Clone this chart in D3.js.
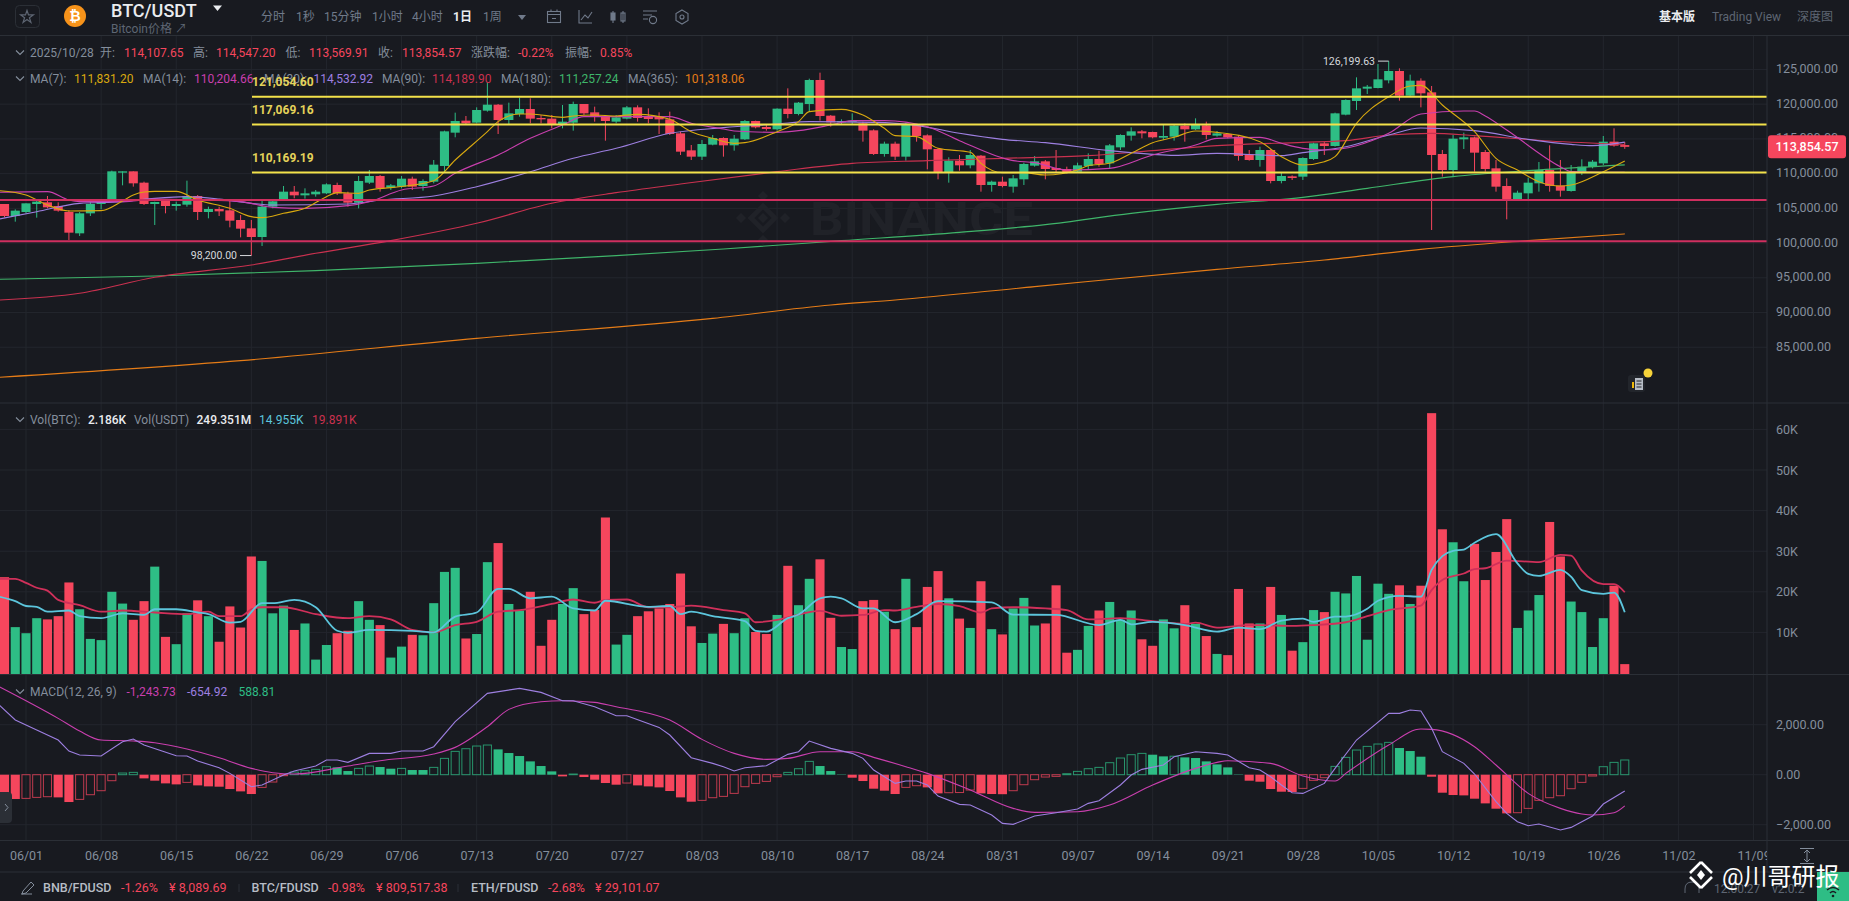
<!DOCTYPE html>
<html>
<head>
<meta charset="utf-8">
<script src="https://cdn.jsdelivr.net/npm/d3@7"></script>
<style>
  html, body { margin: 0; padding: 0; background: #181a20; overflow: hidden; }
  svg { display: block; }
  text { font-family: Roboto, "Noto Sans CJK SC", sans-serif; font-size: 12px; }
  .axis text { fill: #848e9c; font-size: 12.5px; }
  .axis path, .axis line { display: none; }
</style>
</head>
<body>
<svg id="chart" width="1849" height="901"></svg>
<script>
// first candle is 2025/05/30, day 0 is 06/01
const firstDay = -2;

const opens = [
  105624,103896,104472,105624,105864,105336,104472,101400,104280,105624,
  106296,110136,110328,108696,105624,106056,105336,105528,106776,104472,
  104904,104712,103320,102120,100872,105240,106200,107400,106872,107016,
  107160,108360,107160,105816,108696,109656,107976,108120,109272,108216,
  108840,111096,115896,117624,117336,119064,119928,117720,118584,119304,
  118008,117912,117144,117336,120024,118824,118296,117480,117912,119544,
  118296,118200,117816,115800,113352,112440,114168,115128,114072,114936,
  117576,116712,116376,119352,118584,120024,123480,118344,117384,117432,
  117240,116232,112824,114312,112440,117000,115512,113544,110136,111864,
  111192,112584,108360,108840,108120,109176,111144,111768,110808,110664,
  110280,111096,112104,111480,113784,115464,116088,115992,115176,115320,
  116904,116376,116952,115464,115704,115320,112776,111960,113400,108936,
  109608,109560,112104,114360,113976,118488,120456,122232,122328,123432,
  124776,121224,123384,121704,112824,110520,114936,115224,113112,110760,
  108216,106344,107160,108600,110520,108264,107496,110136,110952,111480,
  114600,114107.65];
const closes = [
  103896,104664,105720,105960,105144,104664,101496,104280,105624,106056,
  110328,110328,108600,105624,105912,105336,105624,106776,104472,104904,
  104568,103224,102072,100872,105240,106008,107400,106872,107160,107400,
  108456,107160,105816,108936,109656,107880,108312,109272,108120,108936,
  111288,116088,117576,117240,119160,119928,117720,118680,119304,117912,
  117816,117144,117480,120024,118680,118200,117576,118104,119544,118008,
  117864,117816,115704,113160,112440,114264,115128,114072,115032,117576,
  116664,116424,119352,118584,120216,123480,118296,117384,117576,117624,
  116184,112824,114312,112440,117000,115416,113496,110136,111864,111192,
  112680,108360,108840,108216,109320,111384,111768,110664,110520,110136,
  111192,112104,111384,114072,115560,116088,115800,115224,115416,116904,
  116376,117000,115560,115800,115224,112536,111960,113400,108936,109656,
  109368,112248,114360,113976,118680,120600,122280,122520,123576,124776,
  121224,123384,121560,112680,110520,115032,115224,113016,110664,108120,
  106296,107256,108696,110520,108216,107544,110280,111000,111720,114600,
  114024,113854.57];
const highs = [
  105624,104856,105720,106056,106776,105864,104760,104472,105960,106344,
  110424,110328,110328,108840,105960,106296,105960,108984,106920,105240,
  105240,106200,104040,103320,106056,106104,108216,108216,107880,107640,
  108600,108696,107400,109656,110520,109800,108504,109656,109560,109176,
  111960,116184,118776,118296,119544,123096,120024,120216,120936,120840,
  118440,118440,119880,120360,120024,119640,118440,118440,119736,119832,
  119400,118824,118920,116040,114120,114840,115560,115224,115560,117720,
  117624,117000,119400,122280,120312,123672,124536,118440,117816,118680,
  117480,116376,114600,114600,117336,117144,115656,113640,112344,112680,
  113400,112680,108984,109560,109800,111576,112536,111960,113400,111000,
  111576,112920,113304,114264,115656,116664,116280,116040,117000,117096,
  117240,117960,117480,116136,115800,115560,113400,113880,113544,110136,
  109752,112344,114456,114600,118776,120696,123864,122760,125784,126199.63,
  125160,124248,123720,122616,113400,115560,115896,115320,113400,111960,
  109320,107544,109416,111672,114072,111960,111240,112056,111960,115416,
  116520,114547.2];
const lows = [
  103704,103080,104280,103656,105000,104520,100440,101016,103896,104856,
  106200,108312,108120,105480,102600,104280,104664,105240,103320,103560,
  103896,102264,100824,98200,99576,105000,106104,106440,106392,106680,
  107064,106920,105240,105000,108504,107400,107640,107880,107640,107544,
  108600,110280,115224,117144,117240,118920,115704,117000,118200,117240,
  117240,116520,116520,116184,118440,117480,114744,117240,117816,117480,
  117240,115704,115560,112680,111960,111960,114072,112440,113304,114840,
  116520,116184,116184,117960,118392,118920,117624,116760,117144,117000,
  114600,112680,112440,111960,111864,114600,110616,109176,108696,110424,
  110760,107400,107400,108024,107256,108360,111000,109176,110136,110040,
  110184,110520,111000,110760,113400,114744,115080,115080,114840,114744,
  114600,116280,114936,115320,115080,111864,111864,111000,108600,108600,
  109080,109080,111960,112680,113880,118392,119160,121464,122280,123000,
  120504,121080,119544,101880,109560,109560,113544,110280,110280,107400,
  103416,106200,106296,107400,107400,106680,107400,109800,110760,111240,
  113880,113569.91];

// volume in K BTC
const volumes = [
  23.6,11.3,9.8,13.5,13.2,14.0,22.3,15.7,8.4,8.1,
  20.0,17.1,13.1,17.7,26.2,8.9,7.1,14.7,17.9,14.0,
  7.7,16.4,11.2,28.7,27.6,14.7,16.6,10.6,12.2,3.3,
  6.9,9.8,10.4,17.7,13.1,11.8,3.8,6.5,9.4,9.3,
  17.2,24.9,25.9,8.5,9.6,27.3,32.0,17.0,15.4,20.0,
  6.7,13.1,17.0,20.9,14.5,15.5,38.3,7.0,9.4,14.0,
  15.2,15.9,17.0,24.5,11.5,7.4,9.7,12.1,9.8,13.5,
  10.1,9.6,14.3,26.4,16.7,23.2,28.0,13.6,6.4,5.9,
  17.7,18.0,15.1,10.8,23.2,11.3,21.2,25.1,18.4,13.4,
  11.1,22.6,10.8,9.5,15.9,18.5,11.7,12.2,21.6,5.0,
  5.7,11.6,15.4,17.5,13.1,15.4,8.3,6.7,13.2,11.0,
  16.7,12.1,9.1,4.7,4.4,20.7,12.2,12.2,21.2,14.3,
  5.5,7.6,15.5,15.0,20.0,19.6,23.9,8.2,22.0,19.5,
  21.6,17.0,21.5,64.0,35.4,32.2,22.6,31.8,22.9,29.8,
  37.9,11.1,15.4,19.2,37.2,28.7,17.6,15.0,6.4,13.5,
  21.5,2.186];

const macdHist = [
  -773,-973,-947,-907,-880,-907,-1093,-987,-800,-640,
  -240,67,93,-147,-240,-347,-387,-307,-427,-467,
  -480,-573,-667,-773,-507,-293,-40,107,160,213,
  320,293,147,253,347,307,240,253,187,187,
  293,653,933,1040,1147,1187,1013,867,747,533,
  347,133,-67,27,-93,-200,-333,-400,-333,-427,
  -467,-507,-653,-907,-1080,-1027,-920,-867,-747,-480,
  -347,-267,-80,93,240,533,347,147,13,-120,
  -253,-560,-640,-773,-507,-440,-507,-747,-720,-713,
  -613,-747,-773,-780,-640,-400,-200,-93,-67,40,
  133,240,293,480,667,800,853,800,733,740,
  693,667,533,413,293,13,-240,-280,-573,-680,
  -693,-547,-227,-120,333,693,987,1133,1227,1293,
  1067,947,720,-80,-720,-813,-827,-960,-1147,-1360,
  -1547,-1520,-1347,-1027,-920,-840,-560,-307,-53,320,
  493,588.81];

// moving averages at the visible turning points
const ma7Days = [-2.5,0,2,4,7,9,10,11,12,14,16,19,21,22,24,26,28,29,31,32,34,38,40,43,44,46,47,50,51,53,55,57,60,62,64,66,67,70,72,73,76,78,80,81,83,85,88,89,91,93,95,98,99,101,103,105,107,109,111,115,117,119,121,122,124,127,129,130,132,135,137,139,141,143,144,147,149];
const ma7Vals = [107544,106920,105480,104616,104664,106056,106920,107352,107448,107448,106200,105000,103800,103656,104280,105000,106680,107256,107160,107640,107976,108984,111960,116040,117480,118584,118584,118104,118296,118440,118296,118536,117816,116040,115080,114360,114456,116040,117480,118920,119256,118440,116520,115464,115320,113640,113064,111480,110136,110136,109800,110520,111144,111480,112920,114456,115224,116136,115944,114600,112440,111240,111720,112440,117240,121080,122616,122712,119880,116040,112200,110520,108840,108216,108360,110280,111831.2];
const ma14Days = [-2.5,2,4,5,9,12,16,20,23,26,30,32,35,38,40,44,47,50,52,55,60,62,65,66,70,72,75,77,80,84,87,92,94,97,101,105,109,111,115,117,119,121,124,127,130,134,135,136,138,143,144,147,149];
const ma14Vals = [107304,107400,106200,105960,105960,106344,106200,105960,105144,105000,105384,105960,107640,108216,110040,112680,115080,117000,118200,118200,118200,117240,116424,116136,115944,116184,117000,117624,117624,116760,114744,111864,111576,110520,110760,112680,114120,115080,115224,114360,113640,113400,114024,115800,118584,119016,119016,118296,116280,111000,110280,110184,110204.66];
const ma30Days = [-2.5,1,5,9,12,15,18,21,23,30,33,38,42,47,51,55,60,65,70,73,79,83,87,91,95,101,105,107,111,117,119,123,127,130,135,140,144,146,149];
const ma30Vals = [103464,104520,105720,105960,106440,106680,106344,105720,105480,105624,106200,106776,108120,110280,112200,113640,115800,116616,117144,117480,117384,116952,115800,114936,114456,113304,112776,112632,112920,112584,113016,113880,115560,116568,116184,114936,114216,114024,114532.92];
const ma90Days = [-2.5,5,12,21,27,34,42,49,55,61,70,77,84,91,99,105,111,119,123,127,131,135,142,149];
const ma90Vals = [91800,92760,95064,96840,98520,100344,102840,105720,107256,108504,110280,111480,111864,112200,112584,113304,114024,114504,114744,115560,115800,115464,114696,114189.9];
const ma180Days = [-2.5,12,27,42,55,65,76,87,95,103,111,119,125,133,140,149];
const ma180Vals = [94776,95256,96024,97080,98184,99144,100344,101544,102648,104280,105576,106584,107880,109560,110424,111257.24];
const ma365Days = [-2.5,20,42,64,75,81,94,111,121,130,140,149];
const ma365Vals = [80664,83064,86280,89160,91080,91800,93720,96216,97560,99096,100344,101318.06];

const volBlueDays = [-2.5,-1,0,1,2,4,5,7,9,11,12,14,16,17,19,20,22,23,25,27,29,30,32,36,38,40,42,44,45,47,49,51,53,54,58,60,61,62,64,67,68,69,71,72,74,75,76,78,79,81,83,85,90,92,96,100,102,103,105,108,111,113,115,117,119,120,122,123,125,126,128,130,131,132,133,134,135,137,139,140,141,143,144,145,147,148,149];
const volBlueVals = [18.8,17.7,16.5,16.3,15.1,15.4,14.0,13.5,14.7,14.3,15.7,15.7,14.9,14.5,12.4,12.6,17.2,17.2,18.0,16.2,10.4,9.9,10.6,10.4,10.0,13.9,14.9,20.7,20.7,18.4,18.8,15.9,15.4,17.8,16.3,16.5,14.5,15.1,14.0,12.8,10.4,10.2,13.5,14.4,18.4,18.8,18.4,15.9,15.9,12.5,14.5,17.7,17.4,14.4,14.3,11.8,13.1,12.0,12.6,11.8,10.2,11.2,10.8,12.9,13.4,12.6,13.9,13.9,15.8,17.8,19.0,18.8,25.4,28.8,30.1,30.4,32.1,34.2,27.0,24.4,23.9,25.4,23.7,20.4,19.5,19.8,14.955];
const volRedDays = [-2.5,-1,0,1,2,3,5,7,9,12,15,17,18,20,21,22,24,27,30,32,34,36,38,40,42,44,46,49,51,53,54,56,58,60,62,65,67,68,70,71,74,76,78,80,81,83,85,87,89,90,92,95,97,99,102,105,108,109,111,114,115,118,120,123,125,127,130,131,132,134,135,136,138,141,143,144,145,147,148,149];
const volRedVals = [23.2,23.2,22.2,21.0,20.3,18.0,16.7,15.1,15.4,14.9,14.5,15.1,14.0,14.0,15.7,16.2,16.2,14.5,13.5,14.0,13.2,10.6,10.0,11.8,12.6,15.1,15.5,17.0,18.1,17.3,18.0,18.1,16.2,16.2,16.6,15.5,14.7,12.5,13.1,13.7,15.3,14.1,14.3,15.5,15.4,16.3,17.0,16.5,14.9,15.9,16.2,15.9,15.5,13.2,13.5,12.8,12.1,12.4,11.2,11.8,11.8,11.6,11.8,12.5,14.0,15.5,16.6,20.4,22.9,24.5,25.6,25.8,27.7,27.3,29.1,28.9,25.2,21.9,21.9,19.891];

const difDays = [-2.5,-1,1,3,4,5,7,9,10,11,14,15,16,18,19,21,22,24,25,27,28,29,30,32,34,35,37,38,40,43,46,48,50,51,53,55,56,59,60,62,64,65,66,67,69,71,72,73,75,77,78,79,81,82,83,84,85,87,88,90,91,92,94,96,98,99,100,102,103,104,106,107,109,111,112,114,115,116,117,118,119,121,122,124,127,128,129,130,131,132,134,135,137,138,139,140,141,143,144,146,147,149];
const difVals = [2787,2187,1787,1387,947,787,747,1320,1427,1187,760,747,547,280,53,-480,-413,-13,147,347,587,587,493,853,853,947,947,1120,2120,3253,3453,3293,2960,2960,2720,2360,2360,1893,1587,680,453,320,147,280,360,813,920,1347,1053,853,653,187,-347,-253,-253,-413,-853,-1187,-1213,-1613,-1947,-1987,-1653,-1520,-1373,-1147,-1040,-413,-13,213,387,720,920,853,787,280,187,-80,-413,-720,-747,-347,253,1387,2453,2453,2587,2547,1853,920,453,27,-1080,-1547,-1880,-2040,-1973,-2213,-2107,-1653,-1173,-654.92];
const deaDays = [-2.5,3,5,7,10,12,15,18,21,23,25,30,33,38,40,43,45,48,50,53,55,57,60,63,66,69,71,74,77,79,82,84,88,92,94,98,101,105,109,111,112,116,119,122,123,127,130,131,135,137,140,143,145,146,148,149];
const deaVals = [3520,2253,1747,1387,1347,1280,1027,680,253,80,27,347,560,827,1093,1920,2613,2920,2960,2893,2720,2560,2187,1413,853,613,653,920,920,693,320,53,-613,-1347,-1507,-1480,-1213,-413,253,493,560,453,-53,-253,53,1187,1827,1813,1120,387,-747,-1347,-1573,-1613,-1520,-1243.73];

const priceTicks = [125000,120000,115000,110000,105000,100000,95000,90000,85000];
const volTicks = [10,20,30,40,50,60];
const macdTicks = [2000,0,-2000];
const weekDays = [0,7,14,21,28,35,42,49,56,63,70,77,84,91,98,105,112,119,126,133,140,147,154,161];
const weekLabels = ["06/01","06/08","06/15","06/22","06/29","07/06","07/13","07/20","07/27","08/03","08/10","08/17","08/24","08/31","09/07","09/14","09/21","09/28","10/05","10/12","10/19","10/26","11/02","11/09"];

const yellowLevels = [121054.60, 117069.16, 110169.19];
const pinkLevels = [106207, 100259];
const lastPrice = 113854.57;
const lowMark = 98200.00;
const highMark = 126199.63;

// colours
const bg = "#181a20", up = "#2ebd85", down = "#f6465d", grey = "#848e9c", gridCol = "#23262d", lineCol = "#2b2f36";
const cYellow = "#d9a90f", cMagenta = "#c93fae", cPurple = "#9d7fe0", cRed = "#c9314f", cGreen = "#3fb56a", cOrange = "#e57c17";
const cVolBlue = "#5cc5dc", cVolRed = "#d0305a";

const W = 1849, H = 901, axisX = 1767;
const mainTop = 36, mainBottom = 403, volBottom = 674, macdBottom = 841, timeBottom = 872;

const svg = d3.select("#chart");

const x = d3.scaleLinear().domain([0, 147]).range([26, 1603.3]);
const yPrice = d3.scaleLinear().domain([135000, 85000]).range([0, 347.22]);
const yVol = d3.scaleLinear().domain([0, 60]).range([673, 429.4]);
const yMacd = d3.scaleLinear().domain([-2000, 2000]).range([824.7, 724.7]);

const candles = opens.map((o, i) => ({
  day: firstDay + i, open: o, close: closes[i], high: highs[i], low: lows[i],
  vol: volumes[i], hist: macdHist[i], prevHist: i ? macdHist[i - 1] : macdHist[i]
}));
const barW = 9.1;
const colorOf = d => d.close >= d.open ? up : down;

svg.append("defs").append("clipPath").attr("id", "plotClip")
  .append("rect").attr("width", axisX).attr("height", H);

// ---- grid
const grid = svg.append("g").attr("stroke", gridCol).attr("stroke-width", 1);
weekDays.forEach(d => {
  grid.append("line").attr("x1", x(d)).attr("x2", x(d)).attr("y1", mainTop).attr("y2", macdBottom);
});
const hGrid = (ticks, sc) => ticks.forEach(t => {
  grid.append("line").attr("x1", 0).attr("x2", axisX).attr("y1", sc(t)).attr("y2", sc(t));
});
hGrid(priceTicks, yPrice);
hGrid(volTicks, yVol);
hGrid(macdTicks, yMacd);

// ---- binance watermark
const wmCol = "#202228";
const wm = svg.append("g");
wm.append("text").attr("x", 810).attr("y", 235).attr("fill", wmCol)
  .attr("textLength", 223).attr("lengthAdjust", "spacingAndGlyphs")
  .style("font-size", "46px").style("font-weight", 700)
  .text("BINANCE");
[[763, 218, 12], [741, 218, 5], [785, 218, 5], [763, 196, 5], [763, 240, 5], [763, 218, 5]].forEach((p, i) => {
  wm.append("path")
    .attr("d", `M${p[0]} ${p[1] - p[2]}L${p[0] + p[2]} ${p[1]}L${p[0]} ${p[1] + p[2]}L${p[0] - p[2]} ${p[1]}Z`)
    .attr("fill", i === 0 ? "none" : wmCol)
    .attr("stroke", wmCol).attr("stroke-width", i === 0 ? 5 : 0);
});

// ---- candles
const plot = svg.append("g").attr("clip-path", "url(#plotClip)");
plot.selectAll("line.wick").data(candles).join("line").attr("class", "wick")
  .attr("x1", d => x(d.day)).attr("x2", d => x(d.day))
  .attr("y1", d => yPrice(d.high)).attr("y2", d => yPrice(d.low))
  .attr("stroke", colorOf).attr("stroke-width", 1);
plot.selectAll("rect.body").data(candles).join("rect").attr("class", "body")
  .attr("x", d => x(d.day) - barW / 2).attr("width", barW)
  .attr("y", d => yPrice(Math.max(d.open, d.close)))
  .attr("height", d => Math.max(1, Math.abs(yPrice(d.open) - yPrice(d.close))))
  .attr("fill", colorOf);

function drawLine(days, vals, sc, color, width, curve) {
  const line = d3.line().x(d => x(d[0])).y(d => sc(d[1])).curve(curve || d3.curveMonotoneX);
  plot.append("path").attr("d", line(days.map((d, i) => [d, vals[i]])))
    .attr("fill", "none").attr("stroke", color).attr("stroke-width", width);
}

// ---- moving averages
drawLine(ma365Days, ma365Vals, yPrice, cOrange, 1.1);
drawLine(ma180Days, ma180Vals, yPrice, cGreen, 1.1);
drawLine(ma90Days, ma90Vals, yPrice, cRed, 1.1);
drawLine(ma30Days, ma30Vals, yPrice, cPurple, 1.1);
drawLine(ma14Days, ma14Vals, yPrice, cMagenta, 1.1);
drawLine(ma7Days, ma7Vals, yPrice, cYellow, 1.1);

// ---- drawn levels
pinkLevels.forEach(p => {
  plot.append("line").attr("x1", 0).attr("x2", axisX).attr("y1", yPrice(p)).attr("y2", yPrice(p))
    .attr("stroke", "#cf2f5f").attr("stroke-width", 2);
});
yellowLevels.forEach(p => {
  plot.append("line").attr("x1", 252).attr("x2", axisX).attr("y1", yPrice(p)).attr("y2", yPrice(p))
    .attr("stroke", "#f3e24a").attr("stroke-width", 2);
});

// ---- high and low marks
function mark(price, textRight, x1, x2) {
  svg.append("line").attr("x1", x1).attr("x2", x2).attr("y1", yPrice(price)).attr("y2", yPrice(price))
    .attr("stroke", "#d5d8dc").attr("stroke-width", 1);
  svg.append("text").attr("x", textRight).attr("y", yPrice(price)).attr("dy", "0.35em")
    .attr("text-anchor", "end").attr("fill", "#d5d8dc").style("font-size", "10.5px")
    .text(d3.format(",.2f")(price));
}
mark(lowMark, 237, 240, x(21));
mark(highMark, 1375, 1378, x(127));

// ---- volume
plot.selectAll("rect.vol").data(candles).join("rect").attr("class", "vol")
  .attr("x", d => x(d.day) - barW / 2).attr("width", barW)
  .attr("y", d => yVol(d.vol)).attr("height", d => yVol(0) - yVol(d.vol) + 1)
  .attr("fill", colorOf);
drawLine(volRedDays, volRedVals, yVol, cVolRed, 1.8);
drawLine(volBlueDays, volBlueVals, yVol, cVolBlue, 1.8);

// ---- macd histogram, hollow while the value is rising
const histHollow = d => d.hist > d.prevHist;
plot.selectAll("rect.hist").data(candles).join("rect").attr("class", "hist")
  .attr("x", d => x(d.day) - barW / 2 + (histHollow(d) ? 0.5 : 0))
  .attr("width", d => histHollow(d) ? barW - 1 : barW)
  .attr("y", d => Math.min(yMacd(d.hist), yMacd(0)))
  .attr("height", d => Math.abs(yMacd(d.hist) - yMacd(0)))
  .attr("fill", d => histHollow(d) ? "none" : (d.hist >= 0 ? up : down))
  .attr("stroke", d => histHollow(d) ? (d.hist >= 0 ? up : down) : "none")
  .attr("stroke-opacity", 0.75).attr("stroke-width", 1);
drawLine(deaDays, deaVals, yMacd, cMagenta, 1.1);
drawLine(difDays, difVals, yMacd, cPurple, 1.1, d3.curveLinear);

// ---- frame lines
const frame = svg.append("g").attr("stroke", lineCol).attr("stroke-width", 1);
frame.append("line").attr("x1", 0).attr("x2", W).attr("y1", 35.5).attr("y2", 35.5);
frame.append("line").attr("x1", 0).attr("x2", W).attr("y1", mainBottom).attr("y2", mainBottom);
frame.append("line").attr("x1", 0).attr("x2", W).attr("y1", volBottom + 0.5).attr("y2", volBottom + 0.5);
frame.append("line").attr("x1", 0).attr("x2", W).attr("y1", macdBottom - 0.5).attr("y2", macdBottom - 0.5);
frame.append("line").attr("x1", 0).attr("x2", W).attr("y1", timeBottom).attr("y2", timeBottom);
frame.append("line").attr("x1", axisX).attr("x2", axisX).attr("y1", mainTop).attr("y2", timeBottom);

// ---- axes
const fmtPrice = d3.format(",.2f");
const axisAt = 1776;
svg.append("g").attr("class", "axis").attr("transform", `translate(${axisAt},-1)`)
  .call(d3.axisRight(yPrice).tickValues(priceTicks).tickFormat(fmtPrice).tickSize(0).tickPadding(0));
svg.append("g").attr("class", "axis").attr("transform", `translate(${axisAt},0)`)
  .call(d3.axisRight(yVol).tickValues(volTicks).tickFormat(d => d + "K").tickSize(0).tickPadding(0));
svg.append("g").attr("class", "axis").attr("transform", `translate(${axisAt},-0.5)`)
  .call(d3.axisRight(yMacd).tickValues(macdTicks).tickFormat(fmtPrice).tickSize(0).tickPadding(0));
const xAxisClip = svg.append("g").attr("clip-path", "url(#plotClip)");
xAxisClip.append("g").attr("class", "axis").attr("transform", `translate(0,${macdBottom + 10})`)
  .call(d3.axisBottom(x).tickValues(weekDays).tickFormat((d, i) => weekLabels[i]).tickSize(0).tickPadding(0));

// ---- last price tag
const tagY = yPrice(lastPrice);
svg.append("rect").attr("x", 1768).attr("y", tagY - 11.5).attr("width", 78).attr("height", 23)
  .attr("rx", 3).attr("fill", down);
svg.append("text").attr("x", 1807).attr("y", tagY).attr("dy", "0.35em").attr("text-anchor", "middle")
  .attr("fill", "#fff").style("font-size", "12.5px").style("font-weight", 500).text(fmtPrice(lastPrice));

// ---- helpers for the page furniture
function label(xp, yp, str, color, size, weight) {
  return svg.append("text").attr("x", xp).attr("y", yp).attr("dy", "0.35em")
    .attr("fill", color).style("font-size", (size || 12) + "px").style("font-weight", weight || 400).text(str);
}
function chevron(cx, cy, col) {
  svg.append("path").attr("d", `M${cx - 4} ${cy - 2.5}L${cx} ${cy + 1.5}L${cx + 4} ${cy - 2.5}`)
    .attr("fill", "none").attr("stroke", col || grey).attr("stroke-width", 1.1);
}

// ---- top bar
svg.append("rect").attr("x", 15.5).attr("y", 5.5).attr("width", 24).attr("height", 22).attr("rx", 4)
  .attr("fill", "none").attr("stroke", lineCol);
svg.append("path").attr("d", d3.symbol(d3.symbolStar, 50)()).attr("transform", "translate(27,17)")
  .attr("fill", "none").attr("stroke", "#5e6673").attr("stroke-width", 1.2);
svg.append("circle").attr("cx", 75).attr("cy", 16).attr("r", 11).attr("fill", "#f7931a");
svg.append("text").attr("x", 75).attr("y", 16).attr("dy", "0.36em").attr("text-anchor", "middle")
  .attr("fill", "#fff").style("font-size", "14px").style("font-weight", 700).text("₿");
label(111, 11, "BTC/USDT", "#eaecef", 18, 500);
svg.append("path").attr("d", "M213 5.5L222 5.5L217.5 11Z").attr("fill", "#eaecef");
label(111, 29, "Bitcoin价格 ↗", "#5e6673", 12);

const tabNames = ["分时", "1秒", "15分钟", "1小时", "4小时", "1日", "1周"];
const tabStarts = [261, 296, 324, 372, 412, 453, 483];
tabNames.forEach((t, i) => {
  label(tabStarts[i], 17, t, t === "1日" ? "#eaecef" : "#707a8a", 12, t === "1日" ? 700 : 400);
});
svg.append("path").attr("d", "M518 15L526 15L522 20Z").attr("fill", "#707a8a");

const iconCol = "#707a8a";
const icons = svg.append("g").attr("fill", "none").attr("stroke", iconCol).attr("stroke-width", 1.1);
icons.append("rect").attr("x", 547.5).attr("y", 11.5).attr("width", 13).attr("height", 11);
icons.append("path").attr("d", "M547.5 14.5H560.5M551 9.5V12M557 9.5V12M552 18.5H556");
icons.append("path").attr("d", "M579 10V23H592M581 20L585 15L588 18L592 12");
icons.append("path").attr("d", "M613 11V23M623 11V23");
icons.append("rect").attr("x", 611).attr("y", 13).attr("width", 4).attr("height", 7).attr("fill", iconCol);
icons.append("rect").attr("x", 621).attr("y", 13).attr("width", 4).attr("height", 8);
icons.append("path").attr("d", "M643 11H657M643 15H652M643 19H648");
icons.append("circle").attr("cx", 653).attr("cy", 20).attr("r", 3.6);
icons.append("path").attr("d", "M682 10L688 13.5V20.5L682 24L676 20.5V13.5Z");
icons.append("circle").attr("cx", 682).attr("cy", 17).attr("r", 2);

label(1659, 17, "基本版", "#eaecef", 12, 700);
label(1712, 17, "Trading View", "#5e6673", 12);
label(1797, 17, "深度图", "#5e6673", 12);

// ---- info row
const row1Y = 53;
chevron(20, row1Y);
label(30, row1Y, "2025/10/28", grey);
label(100, row1Y, "开:", grey);
label(124, row1Y, "114,107.65", down);
label(193, row1Y, "高:", grey);
label(216, row1Y, "114,547.20", down);
label(285.5, row1Y, "低:", grey);
label(309, row1Y, "113,569.91", down);
label(378, row1Y, "收:", grey);
label(402, row1Y, "113,854.57", down);
label(471, row1Y, "涨跌幅:", grey);
label(518, row1Y, "-0.22%", down);
label(565, row1Y, "振幅:", grey);
label(600, row1Y, "0.85%", down);

// ---- ma legend (the first drawn level label sits on top of it, as on the page)
const row2Y = 79;
chevron(20, row2Y);
label(30, row2Y, "MA(7):", grey);
label(74, row2Y, "111,831.20", cYellow);
label(143, row2Y, "MA(14):", grey);
label(194, row2Y, "110,204.66", cMagenta);
label(264, row2Y, "MA(30):", grey);
label(313.6, row2Y, "114,532.92", cPurple);
label(382, row2Y, "MA(90):", grey);
label(432, row2Y, "114,189.90", cRed);
label(501, row2Y, "MA(180):", grey);
label(559, row2Y, "111,257.24", cGreen);
label(628, row2Y, "MA(365):", grey);
label(685, row2Y, "101,318.06", cOrange);
yellowLevels.forEach(p => {
  label(252, yPrice(p) - 15, fmtPrice(p), "#e4d25a", 12, 700);
});

// ---- volume legend
const volY = 420;
chevron(20, volY);
label(30, volY, "Vol(BTC):", grey);
label(88, volY, "2.186K", "#eaecef", 12, 500);
label(134, volY, "Vol(USDT)", grey);
label(196.5, volY, "249.351M", "#eaecef", 12, 500);
label(259, volY, "14.955K", cVolBlue);
label(312, volY, "19.891K", cRed);

// ---- macd legend
const macdY = 692;
chevron(20, macdY);
label(30, macdY, "MACD(12, 26, 9)", grey);
label(126.5, macdY, "-1,243.73", cMagenta);
label(187, macdY, "-654.92", cPurple);
label(238.4, macdY, "588.81", up);

// collapse handle
svg.append("path").attr("d", "M0 792H8Q12 792 12 796V819Q12 823 8 823H0Z").attr("fill", "#2b2f36");
svg.append("path").attr("d", "M5 804L8 807.5L5 811").attr("fill", "none").attr("stroke", grey);

// price scale toggle
const tg = svg.append("g").attr("fill", "none").attr("stroke", grey).attr("stroke-width", 1);
tg.append("path").attr("d", "M1800 848.5H1814M1800 863.5H1814M1807 850V862M1804 853L1807 850L1810 853M1804 859L1807 862L1810 859");

// alert icon on the chart
svg.append("rect").attr("x", 1628).attr("y", 375).attr("width", 17).attr("height", 17).attr("rx", 3).attr("fill", "#22252b");
svg.append("rect").attr("x", 1635).attr("y", 378).attr("width", 8).attr("height", 12).attr("fill", "#b7bdc6");
svg.append("path").attr("d", "M1636.5 381H1641.5M1636.5 384H1641.5M1636.5 387H1641.5").attr("stroke", "#22252b");
svg.append("rect").attr("x", 1632).attr("y", 382).attr("width", 2).attr("height", 6).attr("fill", "#f0b90b");
svg.append("circle").attr("cx", 1648).attr("cy", 373).attr("r", 4.5).attr("fill", "#f7d33a");

// ---- footer
const footY = 888;
svg.append("path").attr("d", "M21 894H32M23 891L31 882L34 885L26 893L22 894Z").attr("fill", "none").attr("stroke", grey);
const footNames = ["BNB/FDUSD", "BTC/FDUSD", "ETH/FDUSD"];
const footChanges = ["-1.26%", "-0.98%", "-2.68%"];
const footPrices = ["¥ 8,089.69", "¥ 809,517.38", "¥ 29,101.07"];
const footNameX = [43, 251.5, 471];
const footChangeX = [121, 328, 548];
const footPriceX = [169, 376, 595];
footNames.forEach((n, i) => {
  label(footNameX[i], footY, n, "#b7bdc6", 12.5, 500);
  label(footChangeX[i], footY, footChanges[i], down, 12.5);
  label(footPriceX[i], footY, footPrices[i], down, 12.5);
});
[239, 458].forEach(sx => {
  svg.append("line").attr("x1", sx).attr("x2", sx).attr("y1", footY - 4).attr("y2", footY + 4).attr("stroke", lineCol);
});

// ---- status corner and watermark
svg.append("rect").attr("x", 1817).attr("y", 872).attr("width", 32).attr("height", 29).attr("fill", up);
svg.append("path").attr("d", "M1827 890Q1833 885 1839 890M1830 893Q1833 890 1836 893").attr("fill", "none").attr("stroke", "#181a20").attr("stroke-width", 1.5);
svg.append("circle").attr("cx", 1833).attr("cy", 896).attr("r", 1.3).attr("fill", "#181a20");
svg.append("path").attr("d", "M1685 893V889Q1685 882 1692 882Q1699 882 1699 889V893").attr("fill", "none").attr("stroke", "#5e6673");
label(1714, 889, "12:00:27", "#5e6673", 12);
label(1772, 889, "v2.0.2", "#5e6673", 12);
const mk = svg.append("g").attr("fill", "none").attr("stroke", "#fff").attr("stroke-width", 2.6);
mk.append("path").attr("d", "M1701 862L1712 873M1701 862L1690 873M1701 888L1712 877M1701 888L1690 877");
mk.append("path").attr("d", "M1701 870L1705 875L1701 880L1697 875Z").attr("fill", "#fff").attr("stroke", "none");
svg.append("text").attr("x", 1722).attr("y", 877).attr("dy", "0.35em").attr("fill", "#fff")
  .style("font-size", "24px").text("@川哥研报");
</script>
</body>
</html>
